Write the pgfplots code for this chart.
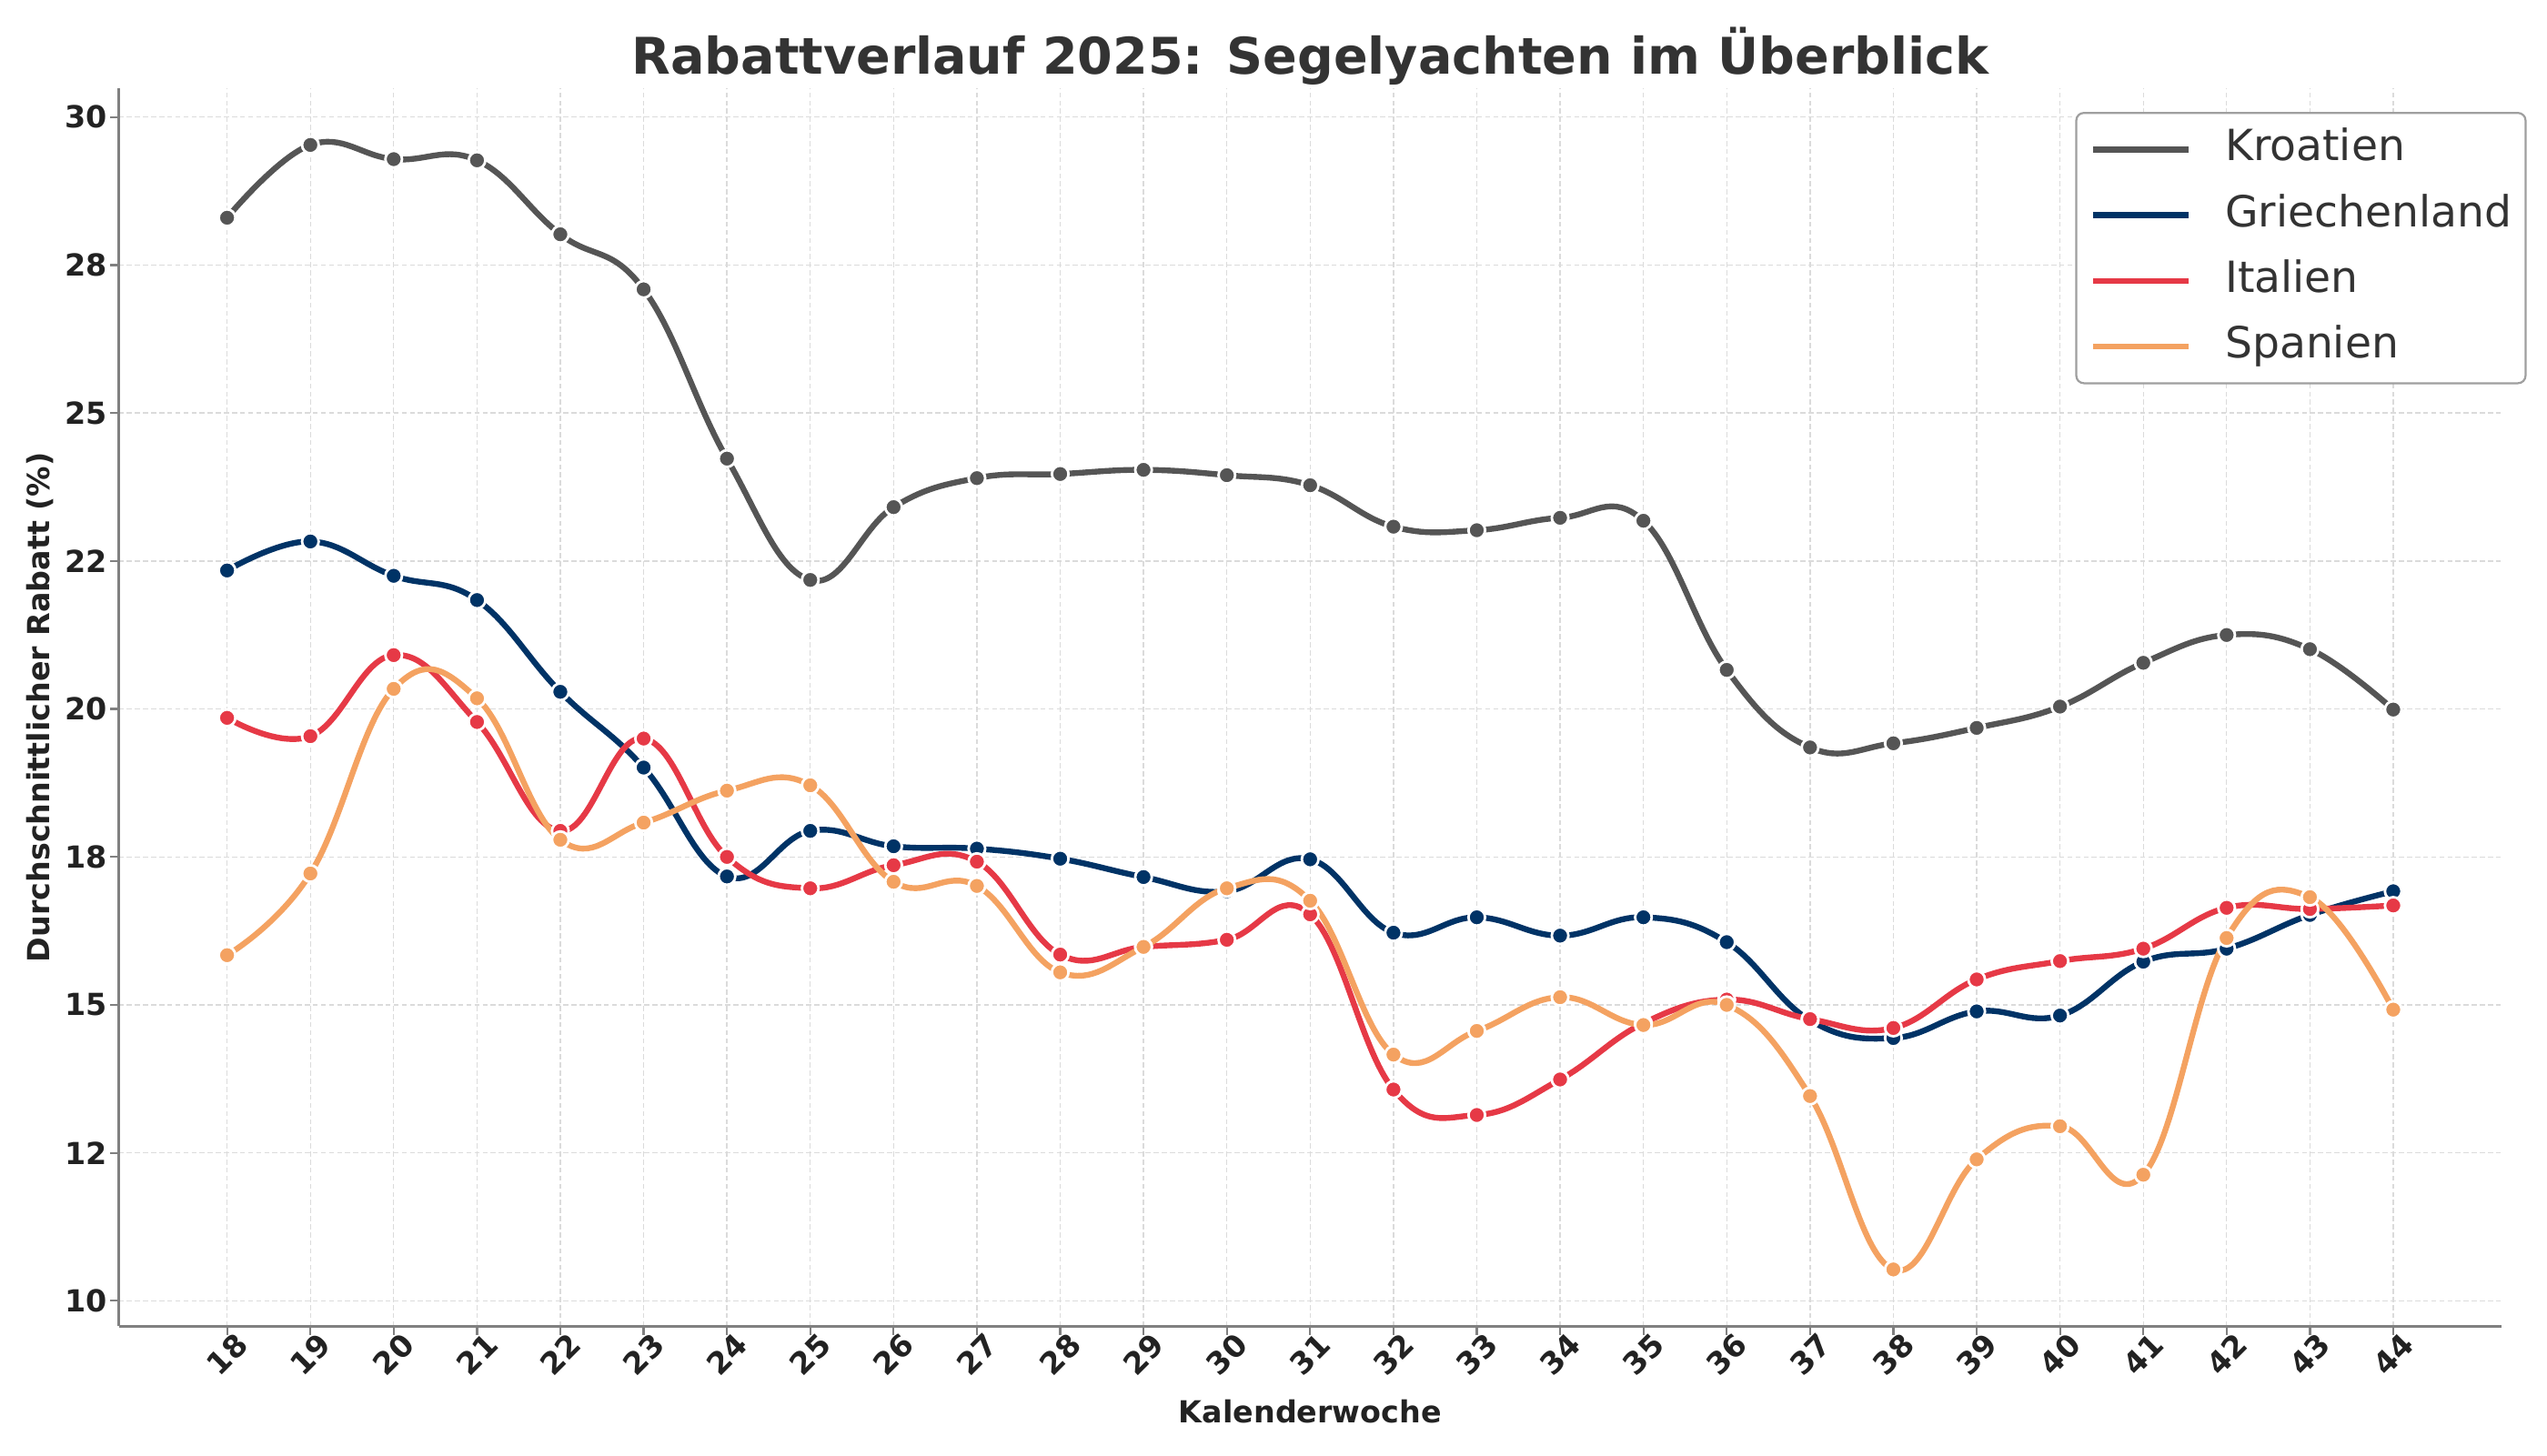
\documentclass[border=0pt]{standalone}
\usepackage{fontspec}
\setmainfont{DejaVu Sans}
\usepackage{pgfplots}
\pgfplotsset{compat=1.18}

\definecolor{kro}{HTML}{555555}
\definecolor{gri}{HTML}{003366}
\definecolor{ita}{HTML}{E63946}
\definecolor{spa}{HTML}{F4A261}
\definecolor{txt}{HTML}{333333}
\definecolor{lbl}{HTML}{222222}

\pgfplotsset{
  serie/.style = {
    #1, line width=2.3pt, smooth, tension=0.7,
    mark=*, mark size=3.3pt,
    mark options={fill=#1, draw=white, line width=1pt},
  },
}

\begin{document}
\begin{tikzpicture}
\useasboundingbox (-47pt,-51pt) rectangle (961pt,525pt);
\begin{axis}[
  width = 943pt, height = 490pt, scale only axis,
  xmin = 16.7, xmax = 45.3,
  ymin = 9.57, ymax = 30.485,
  axis lines* = left,
  axis line style = {draw=gray, line width=1pt, -},
  tick align = outside,
  major tick length = 3.5pt,
  tick style = {draw=gray, line width=0.8pt},
  xtick = {18,...,44},
  ytick = {10,12.5,...,30},
  yticklabels = {10,12,15,18,20,22,25,28,30},
  /pgf/number format/assume math mode = true,
  tick label style = {font=\fontsize{12}{14}\selectfont\bfseries, text=lbl},
  xticklabel style = {yshift=-7.6pt, rotate=45, anchor=center},
  yticklabel style = {xshift=2.5pt},
  grid = major,
  grid style = {draw=gray!28, line width=0.5pt, dash pattern=on 2pt off 1.2pt},
  title = {Rabattverlauf 2025: Segelyachten im Überblick},
  title style = {at={(axis description cs:0.5,1)}, anchor=base, yshift=-0.5pt,
    font=\fontsize{20}{24}\selectfont\bfseries, text=txt},
  xlabel = {Kalenderwoche},
  xlabel style = {at={(axis description cs:0.5,0)}, anchor=center, yshift=-33.6pt,
    font=\fontsize{12}{14}\selectfont\bfseries, text=lbl},
  ylabel = {Durchschnittlicher Rabatt (\%)},
  ylabel style = {at={(axis description cs:0,0.5)}, anchor=center, yshift=31pt,
    font=\fontsize{12}{14}\selectfont\bfseries, text=lbl},
  legend style = {
    at={(axis description cs:1,1)}, anchor=north east, xshift=9.9pt, yshift=-9.3pt,
    draw=gray!75, line width=0.8pt, rounded corners=3pt, fill=white,
    font=\fontsize{17}{20}\selectfont, text=txt,
    inner xsep=5.5pt, inner ysep=6pt, row sep=9pt,
    nodes={inner sep=0pt, text height=13pt, text depth=4pt},
    cells={anchor=west},
  },
  legend image code/.code = {
    \draw[#1, mark=none, line width=2.3pt] (0pt,0pt) -- (37.8pt,0pt);
    \path (51.1pt,0pt);
  },
]

% Kroatien
\addplot[serie=kro] table {
  kw  r
  18 28.30
  19 29.53
  20 29.29
  21 29.27
  22 28.02
  23 27.09
  24 24.23
  25 22.18
  26 23.41
  27 23.90
  28 23.97
  29 24.04
  30 23.95
  31 23.78
  32 23.08
  33 23.02
  34 23.23
  35 23.18
  36 20.66
  37 19.35
  38 19.42
  39 19.68
  40 20.04
  41 20.78
  42 21.25
  43 21.01
  44 19.99
};
\addlegendentry{Kroatien}

% Griechenland
\addplot[serie=gri] table {
  kw  r
  18 22.34
  19 22.83
  20 22.25
  21 21.84
  22 20.29
  23 19.01
  24 17.17
  25 17.94
  26 17.68
  27 17.64
  28 17.47
  29 17.16
  30 16.92
  31 17.46
  32 16.22
  33 16.48
  34 16.17
  35 16.48
  36 16.06
  37 14.74
  38 14.44
  39 14.89
  40 14.82
  41 15.73
  42 15.95
  43 16.52
  44 16.92
};
\addlegendentry{Griechenland}

% Italien
\addplot[serie=ita] table {
  kw  r
  18 19.85
  19 19.54
  20 20.91
  21 19.78
  22 17.94
  23 19.50
  24 17.50
  25 16.97
  26 17.36
  27 17.42
  28 15.85
  29 15.98
  30 16.10
  31 16.53
  32 13.57
  33 13.14
  34 13.74
  35 14.69
  36 15.09
  37 14.76
  38 14.61
  39 15.43
  40 15.74
  41 15.95
  42 16.64
  43 16.62
  44 16.68
};
\addlegendentry{Italien}

% Spanien
\addplot[serie=spa] table {
  kw  r
  18 15.84
  19 17.22
  20 20.34
  21 20.18
  22 17.79
  23 18.08
  24 18.62
  25 18.71
  26 17.08
  27 17.01
  28 15.55
  29 15.98
  30 16.97
  31 16.76
  32 14.16
  33 14.56
  34 15.13
  35 14.66
  36 15.00
  37 13.46
  38 10.53
  39 12.39
  40 12.95
  41 12.13
  42 16.13
  43 16.82
  44 14.92
};
\addlegendentry{Spanien}

\end{axis}
\end{tikzpicture}
\end{document}
